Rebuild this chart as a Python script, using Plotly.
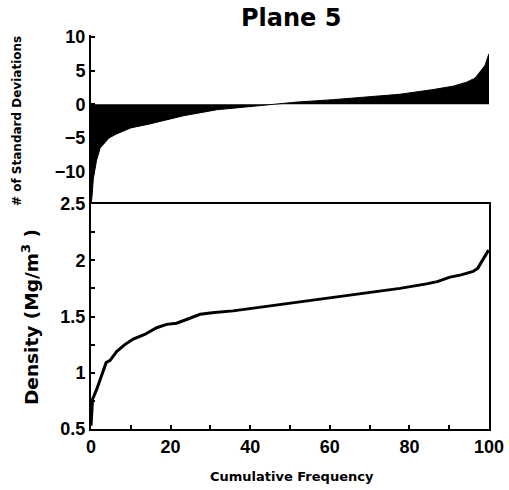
import plotly.graph_objects as go

# Top panel: sorted standardized deviations vs cumulative frequency
freq_sd = [0, 0.2, 0.6, 1.4, 2.3, 3.5, 4.5, 6.4, 10, 14.8, 23.2, 31.6, 40, 45, 52, 60.9, 70, 77.6, 86, 91, 94.4, 96.5, 97.7, 99, 99.8, 100]
sd_vals = [-15, -14, -11, -8.3, -6.5, -5.6, -5.0, -4.4, -3.5, -2.9, -1.7, -0.8, -0.3, 0, 0.35, 0.7, 1.1, 1.5, 2.2, 2.7, 3.3, 3.9, 4.8, 5.8, 7.2, 7.5]

# Bottom panel: density vs cumulative frequency
freq_d = [0, 0.4, 1.4, 2.3, 3.8, 4.8, 6.5, 8.5, 10.6, 13.5, 16.5, 19, 21.5, 24.5, 27.4, 31, 35.7, 44.1, 52.5, 60.9, 69.3, 77.6, 84.3, 87, 90.2, 93, 96.0, 97.2, 98.2, 99.9]
density = [0.53, 0.765, 0.85, 0.94, 1.09, 1.11, 1.19, 1.25, 1.30, 1.34, 1.40, 1.43, 1.44, 1.48, 1.52, 1.535, 1.55, 1.59, 1.63, 1.67, 1.71, 1.75, 1.79, 1.81, 1.85, 1.87, 1.90, 1.93, 1.99, 2.09]

sd_ticks = [-10, -5, 0, 5, 10]

font = "Liberation Sans, Arial, sans-serif"
wfont = "DejaVu Sans, sans-serif"

L, R, T, B = 91, 20, 35, 61
W, H = 509, 490

fig = go.Figure()
fig.add_trace(go.Scatter(x=freq_sd, y=sd_vals, mode="lines", fill="tozeroy",
                         fillcolor="black", line=dict(color="black", width=1),
                         xaxis="x2", yaxis="y2", showlegend=False))
fig.add_trace(go.Scatter(x=freq_d, y=density, mode="lines",
                         line=dict(color="black", width=3),
                         xaxis="x", yaxis="y", showlegend=False))

split = 225 / (H - T - B)
tf = dict(size=18, family=font, weight="bold")
fig.update_layout(
    width=W, height=H,
    margin=dict(l=L, r=R, t=T, b=B),
    paper_bgcolor="white", plot_bgcolor="white",
    font=dict(family=font, color="black"),
    xaxis=dict(domain=[0, 1], range=[0, 100], tick0=0, dtick=20,
               ticks="inside", ticklen=4, tickwidth=2, tickcolor="black",
               minor=dict(dtick=10, ticks="inside", ticklen=4, tickwidth=2, tickcolor="black"),
               showline=True, linewidth=2, linecolor="black", mirror=True,
               showgrid=False, zeroline=False, tickfont=tf, anchor="y", automargin=False),
    yaxis=dict(domain=[0, split], range=[0.5, 2.5], tick0=0.5, dtick=0.5,
               ticks="inside", ticklen=4, tickwidth=2, tickcolor="black",
               minor=dict(dtick=0.25, ticks="inside", ticklen=4, tickwidth=2, tickcolor="black"),
               showline=True, linewidth=2, linecolor="black", mirror=True,
               showgrid=False, zeroline=False, tickfont=tf, anchor="x", automargin=False),
    xaxis2=dict(domain=[0, 1], range=[0, 100], visible=False, anchor="y2"),
    yaxis2=dict(domain=[split, 1], range=[-14.8, 10.3], tickvals=sd_ticks,
                ticks="inside", ticklen=4, tickwidth=2, tickcolor="black",
                showline=True, linewidth=2, linecolor="black",
                showgrid=False, zeroline=False, tickfont=tf, anchor="x2", automargin=False),
    annotations=[
        dict(text="<b>Plane 5</b>", x=291, y=18,
             showarrow=False, font=dict(size=24, family=wfont)),
        dict(text="<b># of Standard Deviations</b>", x=17, y=121, textangle=-90,
             showarrow=False, font=dict(size=12, family=wfont)),
        dict(text="<b>Density (Mg/m<sup>3</sup> )</b>", x=30, y=317, textangle=-90,
             showarrow=False, font=dict(size=18.5, family=wfont)),
        dict(text="<b>Cumulative Frequency</b>", x=292, y=477,
             showarrow=False, font=dict(size=13, family=wfont)),
    ],
)

# convert pixel positions of annotations to paper coords
pw, ph = W - L - R, H - T - B
for a in fig.layout.annotations:
    px, py = a.x, a.y
    a.xref = "paper"; a.yref = "paper"
    a.x = (px - L) / pw
    a.y = 1 - (py - T) / ph
    a.xanchor = "center"; a.yanchor = "middle"

fig.write_html("out.html")
